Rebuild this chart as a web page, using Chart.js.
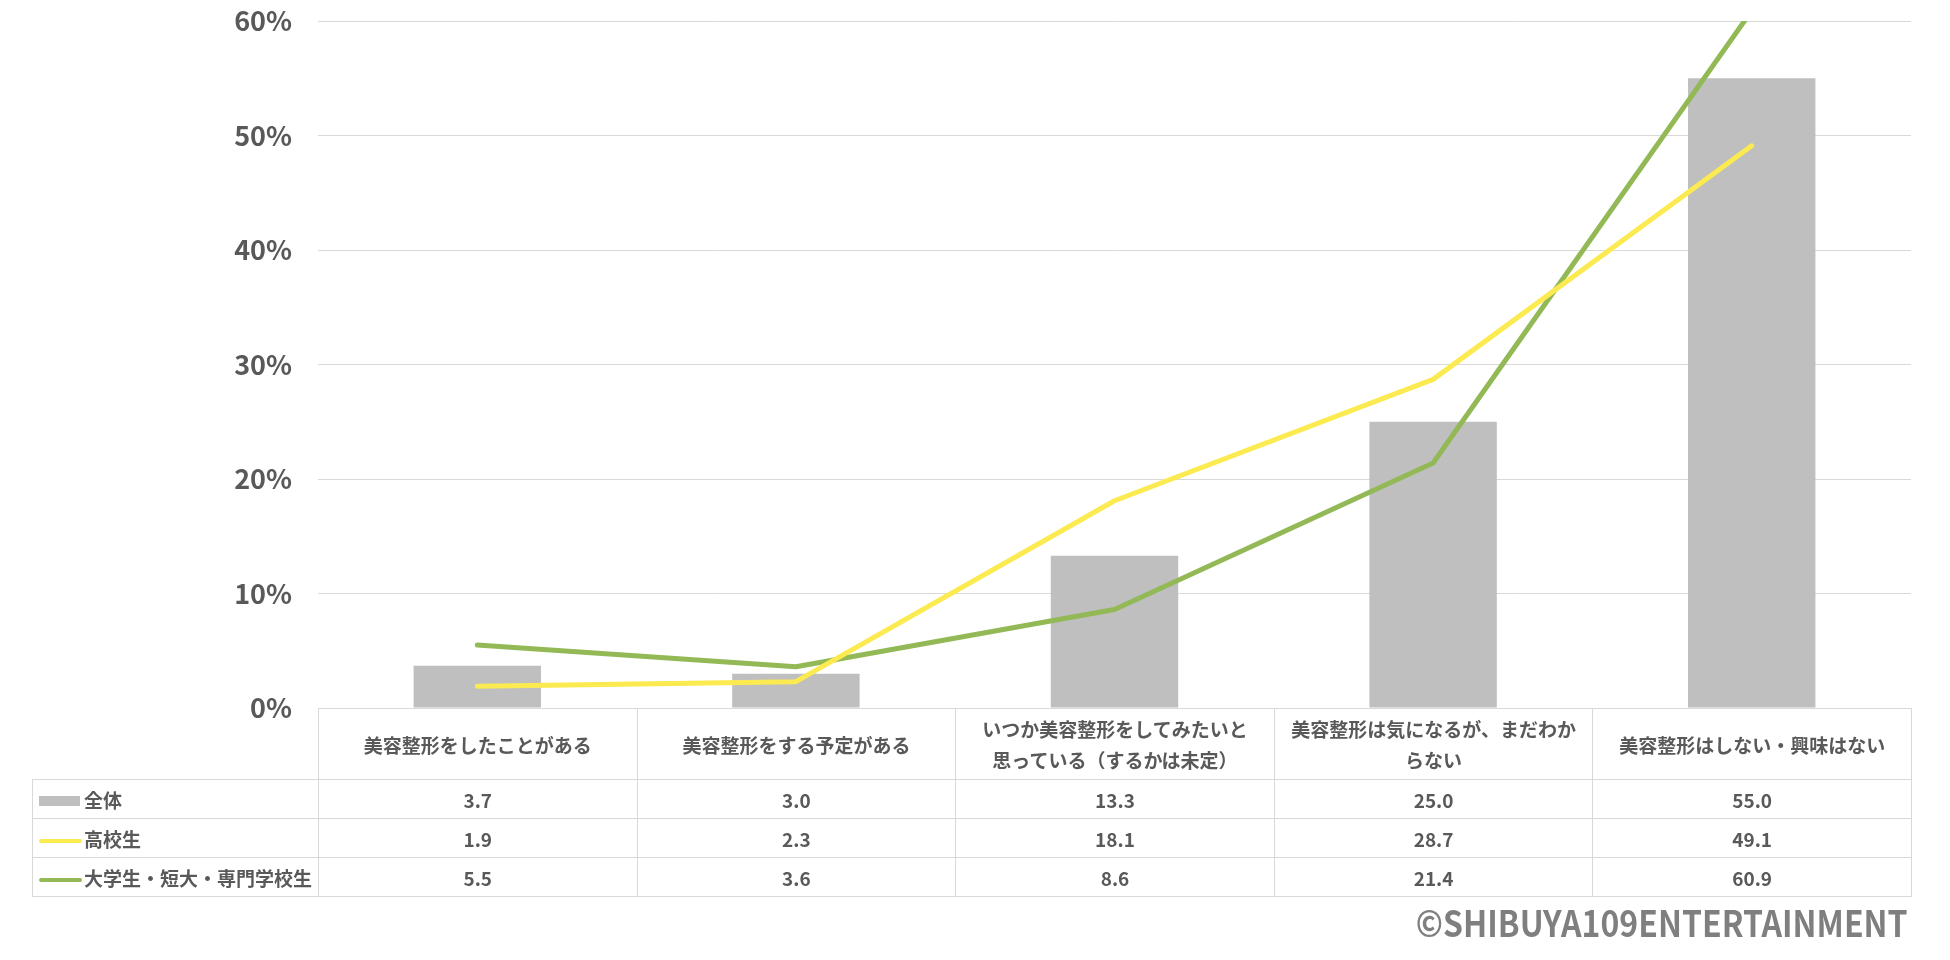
<!DOCTYPE html>
<html lang="ja">
<head>
<meta charset="utf-8">
<script src="https://cdn.jsdelivr.net/npm/chart.js@4.4.1/dist/chart.umd.min.js"></script>
<style>
  html, body { margin: 0; padding: 0; background: #fff; }
  body { width: 1950px; height: 960px; position: relative; overflow: hidden;
         font-family: 'Noto Sans CJK JP', 'Noto Sans', sans-serif; color: #595959; }
  #chart { position: absolute; left: 0; top: 0; }
  #table { position: absolute; border-collapse: collapse; table-layout: fixed; }
  #table td { border: 1px solid #d9d9d9; text-align: center; vertical-align: middle;
              font-size: 19px; font-weight: 700; padding: 0; color: #595959; }
  #table tr.head td { line-height: 31px; }
  #table td.blank { border-top: hidden; border-left: hidden; }
  #table td.legend { text-align: left; white-space: nowrap; }
  .sw { display: inline-block; width: 46px; height: 12px; position: relative; vertical-align: middle; margin-left: 5px; }
  .sw i { position: absolute; left: 1px; }
  #credit { position: absolute; right: 42px; top: 903px; font-size: 36px; font-weight: 700;
            color: #7f7f7f; line-height: 1; transform: scaleX(0.89); transform-origin: right center; }
</style>
</head>
<body>
<canvas id="chart" width="1950" height="960"></canvas>
<table id="table"></table>
<div id="credit">©SHIBUYA109ENTERTAINMENT</div>
<script>
const categories = [
  ['美容整形をしたことがある'],
  ['美容整形をする予定がある'],
  ['いつか美容整形をしてみたいと', '思っている（するかは未定）'],
  ['美容整形は気になるが、まだわか', 'らない'],
  ['美容整形はしない・興味はない'],
];
const seriesNames = ['全体', '高校生', '大学生・短大・専門学校生'];
const totalValues = [3.7, 3.0, 13.3, 25.0, 55.0];
const highSchoolValues = [1.9, 2.3, 18.1, 28.7, 49.1];
const collegeValues = [5.5, 3.6, 8.6, 21.4, 60.9];
const yTicks = [0, 10, 20, 30, 40, 50, 60];

const colors = ['#bfbfbf', '#fbea50', '#93b956'];
const TEXT = '#595959';

Chart.defaults.font.family = "'Noto Sans CJK JP', 'Noto Sans', sans-serif";
Chart.defaults.color = TEXT;

const ctx = document.getElementById('chart').getContext('2d');
const chart = new Chart(ctx, {
  data: {
    labels: categories,
    datasets: [
      {
        type: 'bar',
        label: seriesNames[0],
        data: totalValues,
        backgroundColor: colors[0],
        barPercentage: 0.4,
        categoryPercentage: 1.0,
        order: 3,
      },
      {
        type: 'line',
        label: seriesNames[1],
        data: highSchoolValues,
        borderColor: colors[1],
        borderWidth: 5,
        pointRadius: 0,
        borderCapStyle: 'round',
        borderJoinStyle: 'round',
        tension: 0,
        clip: 0,
        order: 1,
      },
      {
        type: 'line',
        label: seriesNames[2],
        data: collegeValues,
        borderColor: colors[2],
        borderWidth: 5,
        pointRadius: 0,
        borderCapStyle: 'round',
        borderJoinStyle: 'round',
        tension: 0,
        clip: 0,
        order: 2,
      },
    ],
  },
  options: {
    responsive: false,
    devicePixelRatio: 1,
    animation: false,
    layout: { padding: { top: 21, right: 39, bottom: 252, left: 0 } },
    plugins: { legend: { display: false }, tooltip: { enabled: false } },
    scales: {
      x: { type: 'category', display: false, offset: true },
      y: {
        min: yTicks[0],
        max: yTicks[yTicks.length - 1],
        afterBuildTicks: scale => { scale.ticks = yTicks.map(v => ({ value: v })); },
        afterFit: scale => { scale.width = 318; },
        ticks: {
          padding: 0,
          font: { size: 27, weight: 'bold' },
          color: TEXT,
          callback: v => `${v}%`,
        },
        // invisible tick marks give the gap between labels and plot
        grid: { color: '#d9d9d9', lineWidth: 1, drawTicks: true, tickLength: 26, tickColor: 'rgba(0,0,0,0)' },
        border: { display: false },
      },
    },
  },
});

// data table under the plot, columns taken from the x scale
function buildTable() {
  const area = chart.chartArea;
  const xs = chart.scales.x;
  const step = (area.right - area.left) / categories.length;
  const tableLeft = 32;
  const table = document.getElementById('table');
  table.style.left = tableLeft + 'px';
  table.style.top = Math.round(area.bottom) + 'px';

  let html = '<colgroup><col style="width:' + (area.left - tableLeft) + 'px">';
  categories.forEach((c, i) => {
    const l = xs.getPixelForValue(i) - step / 2;
    const r = xs.getPixelForValue(i) + step / 2;
    html += '<col style="width:' + (r - l) + 'px">';
  });
  html += '</colgroup>';

  html += '<tr class="head" style="height:71px"><td class="blank"></td>';
  categories.forEach(c => { html += '<td>' + c.join('<br>') + '</td>'; });
  html += '</tr>';

  const rows = [totalValues, highSchoolValues, collegeValues];
  rows.forEach((vals, k) => {
    const sw = k === 0
      ? '<i style="top:0;width:41px;height:10px;background:' + colors[0] + '"></i>'
      : '<i style="top:4px;width:43px;height:4px;border-radius:2px;background:' + colors[k] + '"></i>';
    html += '<tr style="height:39px"><td class="legend"><span class="sw">' + sw + '</span>' + seriesNames[k] + '</td>';
    vals.forEach(v => { html += '<td>' + v.toFixed(1) + '</td>'; });
    html += '</tr>';
  });
  table.innerHTML = html;
}
buildTable();
</script>
</body>
</html>
